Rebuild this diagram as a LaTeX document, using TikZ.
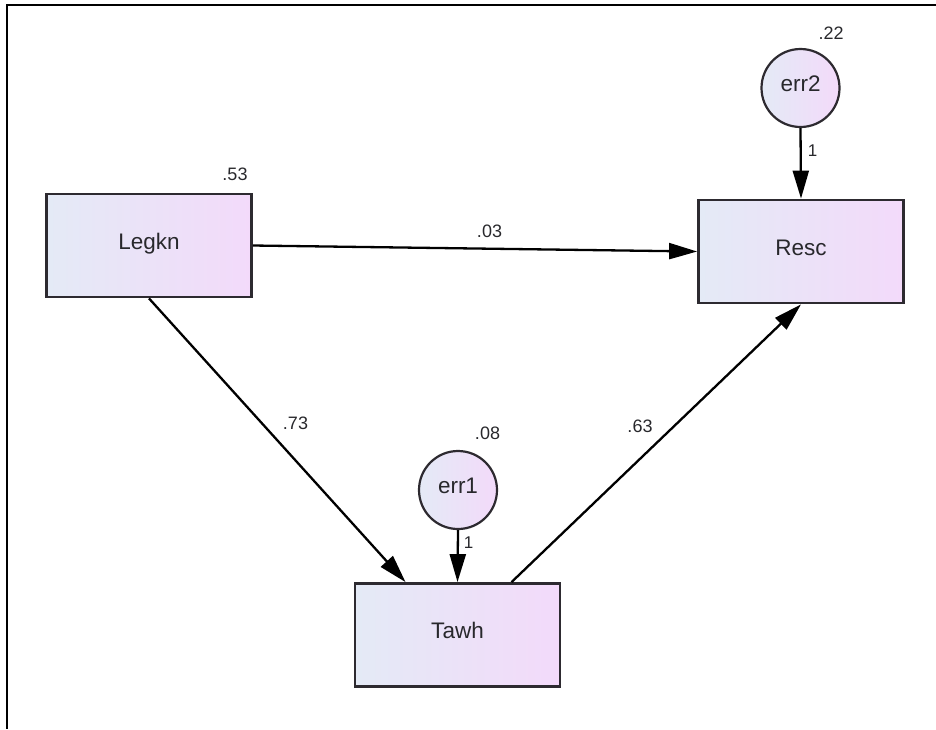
\documentclass[tikz,border=0pt]{standalone}
\usepackage{fontspec}
\setmainfont{Liberation Sans}
\usetikzlibrary{arrows.meta,calc}
\definecolor{fillL}{RGB}{228,234,246}
\definecolor{fillR}{RGB}{243,218,250}
\definecolor{edge}{RGB}{45,42,48}
\definecolor{txt}{RGB}{40,40,44}
\begin{document}
\begin{tikzpicture}[x=1pt,y=-1pt,
  obsbox/.style={draw=edge,line width=2.8pt,left color=fillL,right color=fillR,
    minimum width=205pt,minimum height=103pt,inner sep=0pt,
    font=\fontsize{22.5}{26}\selectfont,text=txt,text height=0.72em,text depth=0pt},
  errc/.style={circle,draw=edge,line width=2.2pt,left color=fillL,right color=fillR,
    minimum size=78pt,inner sep=0pt,
    font=\fontsize{22.5}{26}\selectfont,text=txt,text height=0.72em,text depth=0pt},
  lbl/.style={inner sep=0pt,font=\fontsize{18}{20}\selectfont,text=txt,
    text height=0.72em,text depth=0pt},
  pth/.style={line width=2.3pt,black,-{Triangle[length=28pt,width=16pt]}}
]
\useasboundingbox (0,0) rectangle (936,729);
% frame
\draw[line width=2.2pt,black] (6,5) -- (936,5);
\draw[line width=2.2pt,black] (7,4) -- (7,729);

% nodes
\node[obsbox] (Legkn) at (149,245.5) {Legkn};
\node[obsbox] (Resc) at (801,251.5) {Resc};
\node[obsbox] (Tawh) at (457.5,635) {Tawh};
\node[errc] (err2) at (800.5,88) {err2};
\node[errc] (err1) at (458,490) {err1};

% labels
\node[lbl] (v53) at (235,177) {.53};
\node[lbl] (v22) at (831,35.5) {.22};
\node[lbl] (v08) at (487.5,435.5) {.08};
\node[lbl] (v03) at (489.5,234) {.03};
\node[lbl] (v73) at (295.5,426) {.73};
\node[lbl] (v63) at (640,429) {.63};
\node[lbl,font=\fontsize{17}{19}\selectfont] (one2) at (812.5,153) {1};
\node[lbl,font=\fontsize{17}{19}\selectfont] (one1) at (468.5,545) {1};

% connectors
\draw[pth] (Legkn.east) -- (Resc.west);
\draw[pth] (Legkn.south) -- ($(Tawh.north)!0.5!(Tawh.north west)$);
\draw[pth] ($(Tawh.north)!0.52!(Tawh.north east)$) -- (Resc.south);
\draw[pth] (err2.south) -- (Resc.north);
\draw[pth] (err1.south) -- (Tawh.north);
\end{tikzpicture}
\end{document}
